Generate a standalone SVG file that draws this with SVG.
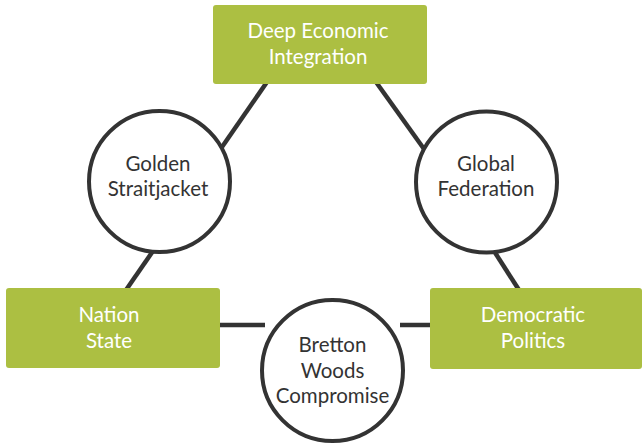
<svg xmlns="http://www.w3.org/2000/svg" width="642" height="448" viewBox="0 0 642 448">
<style>
.box{fill:#acbf42;}
.circ{fill:#fff;stroke:#333;stroke-width:4;}
.edge{stroke:#333;stroke-width:4.5;fill:none;}
text{font-family:Lato,"Open Sans",sans-serif;font-size:20.5px;text-anchor:middle;}
.w{fill:#fff;}
.d{fill:#333;}
</style>
<rect width="642" height="448" fill="#fff"/>
<g id="connectors">
<line class="edge" x1="267" y1="82" x2="222" y2="147"/>
<line class="edge" x1="153" y1="251" x2="126" y2="290"/>
<line class="edge" x1="376" y1="82" x2="424" y2="149"/>
<line class="edge" x1="494" y1="251" x2="519" y2="290"/>
<line class="edge" x1="218" y1="325" x2="265" y2="325"/>
<line class="edge" x1="400" y1="325" x2="432" y2="325"/>
</g>
<g id="deep">
<rect class="box" x="213" y="5" width="214" height="79" rx="3"/>
<text class="w" x="318" y="38">Deep Economic</text>
<text class="w" x="318" y="63.5">Integration</text>
</g>
<g id="nation">
<rect class="box" x="6" y="288" width="214" height="80" rx="3"/>
<text class="w" x="109" y="322">Nation</text>
<text class="w" x="109" y="347.5">State</text>
</g>
<g id="democratic">
<rect class="box" x="430" y="288" width="212" height="81" rx="3"/>
<text class="w" x="533" y="322">Democratic</text>
<text class="w" x="533" y="347.5">Politics</text>
</g>
<g id="golden">
<circle class="circ" cx="159.5" cy="181.5" r="70.5"/>
<text class="d" x="158" y="170.5">Golden</text>
<text class="d" x="158" y="196">Straitjacket</text>
</g>
<g id="global">
<circle class="circ" cx="486.5" cy="182" r="70.5"/>
<text class="d" x="486" y="171">Global</text>
<text class="d" x="486" y="196">Federation</text>
</g>
<g id="bretton">
<circle class="circ" cx="332.5" cy="370.5" r="70.5"/>
<text class="d" x="332.5" y="352">Bretton</text>
<text class="d" x="332.5" y="377.5">Woods</text>
<text class="d" x="332.5" y="402.5">Compromise</text>
</g>
</svg>
